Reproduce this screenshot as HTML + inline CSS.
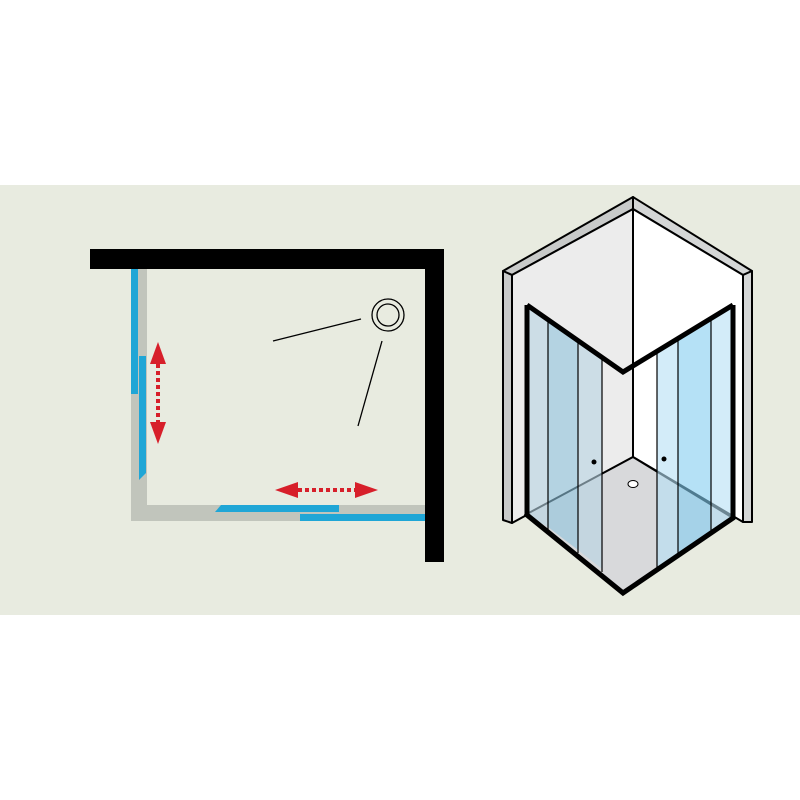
<!DOCTYPE html>
<html><head><style>html,body{margin:0;padding:0;background:#fff}svg{display:block}</style></head>
<body>
<svg width="800" height="800" viewBox="0 0 800 800" xmlns="http://www.w3.org/2000/svg">
<rect x="0" y="0" width="800" height="800" fill="#fff"/>
<rect x="0" y="185" width="800" height="430" fill="#e8ebe0"/>
<!-- plan -->
<rect x="131" y="269" width="16" height="252" fill="#c1c5bc"/>
<rect x="131" y="505" width="294" height="16" fill="#c1c5bc"/>
<rect x="131" y="269" width="7" height="125" fill="#1fa6d6"/>
<polygon points="139,356 146,356 146,473 139,480" fill="#1fa6d6"/>
<polygon points="221,505 339,505 339,512 215,512" fill="#1fa6d6"/>
<rect x="300" y="514" width="125" height="7" fill="#1fa6d6"/>
<rect x="90" y="249" width="354" height="20" fill="#000"/>
<rect x="425" y="249" width="19" height="313" fill="#000"/>
<!-- arrows -->
<polygon points="158,342 150,364 166,364" fill="#d71f2a"/>
<polygon points="158,444 150,422 166,422" fill="#d71f2a"/>
<line x1="158" y1="364" x2="158" y2="422" stroke="#d71f2a" stroke-width="4" stroke-dasharray="4,3"/>
<polygon points="275,490 298,482 298,498" fill="#d71f2a"/>
<polygon points="378,490 355,482 355,498" fill="#d71f2a"/>
<line x1="298" y1="490" x2="355" y2="490" stroke="#d71f2a" stroke-width="4" stroke-dasharray="4,3"/>
<circle cx="388" cy="315" r="16" fill="none" stroke="#000" stroke-width="1.3"/>
<circle cx="388" cy="315" r="11" fill="none" stroke="#000" stroke-width="1.3"/>
<line x1="273" y1="341" x2="361" y2="319" stroke="#000" stroke-width="1.3"/>
<line x1="382" y1="341" x2="358" y2="426" stroke="#000" stroke-width="1.3"/>
<!-- iso -->
<g stroke="#000" stroke-width="2" stroke-linejoin="round">
<polygon points="503,271 633,197 633,209 512,275" fill="#c8cac9"/>
<polygon points="503,271 512,275 512,523 503,520" fill="#c8cac9"/>
<polygon points="752,271 633,197 633,209 743,275" fill="#d4d6d6"/>
<polygon points="752,271 743,275 743,522 752,522" fill="#d4d6d6"/>
<polygon points="512,275 633,209 633,457 512,523" fill="#ececec"/>
<polygon points="743,275 633,209 633,457 743,522" fill="#fff"/>
<polygon points="633,457 525,515 623,593 733,518" fill="#d8d9db"/>
</g>
<!-- glass -->
<polygon points="527,305 548,318 548,527 527,515" fill="#b8d4e2" opacity="0.6"/>
<polygon points="548,318 578,339 578,550 548,527" fill="#8fc3dc" opacity="0.6"/>
<polygon points="578,339 602,356 602,569 578,550" fill="#b8d4e2" opacity="0.6"/>
<polygon points="657,350 678,336 678,555 657,570" fill="#b5e0f5" opacity="0.6"/>
<polygon points="678,336 711,316 711,534 678,555" fill="#83cdf0" opacity="0.6"/>
<polygon points="711,316 733,305 733,518 711,534" fill="#b5e0f5" opacity="0.6"/>
<g stroke="#000" stroke-width="1.2">
<line x1="548" y1="318" x2="548" y2="530"/>
<line x1="578" y1="339" x2="578" y2="553"/>
<line x1="602" y1="356" x2="602" y2="572"/>
<line x1="657" y1="350" x2="657" y2="570"/>
<line x1="678" y1="336" x2="678" y2="555"/>
<line x1="711" y1="316" x2="711" y2="534"/>
</g>
<circle cx="594" cy="462" r="2.5" fill="#000"/>
<circle cx="664" cy="459" r="2.5" fill="#000"/>
<ellipse cx="633" cy="484" rx="5" ry="3.5" fill="#fff" stroke="#000" stroke-width="1"/>
<polyline points="527,305 623,372 733,305" fill="none" stroke="#000" stroke-width="5"/>
<polyline points="527,305 527,515 623,593 733,518 733,305" fill="none" stroke="#000" stroke-width="5" stroke-linejoin="miter"/>
</svg>
</body></html>
